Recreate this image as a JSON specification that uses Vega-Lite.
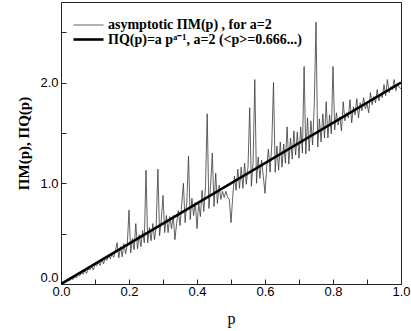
{
  "$schema": "https://vega.github.io/schema/vega-lite/v6.json",
  "autosize": {"type": "none"},
  "padding": {"left": 61, "top": 2, "right": 10, "bottom": 45},
  "width": 340,
  "height": 282,
  "background": "white",
  "config": {
    "view": {"stroke": "#222", "strokeWidth": 1},
    "axis": {
      "grid": false,
      "domainColor": "#222",
      "tickColor": "#222",
      "labelColor": "black",
      "labelFont": "Liberation Sans",
      "labelFontSize": 13,
      "titleFont": "Liberation Serif",
      "titleColor": "black"
    }
  },
  "data": {
    "values": [
      {"p":0.000,"v":0.000,"s":"M"},{"p":0.005,"v":0.005,"s":"M"},{"p":0.010,"v":0.020,"s":"M"},{"p":0.015,"v":0.018,"s":"M"},{"p":0.020,"v":0.040,"s":"M"},
      {"p":0.025,"v":0.032,"s":"M"},{"p":0.030,"v":0.058,"s":"M"},{"p":0.035,"v":0.045,"s":"M"},{"p":0.040,"v":0.080,"s":"M"},{"p":0.045,"v":0.060,"s":"M"},
      {"p":0.050,"v":0.095,"s":"M"},{"p":0.055,"v":0.080,"s":"M"},{"p":0.060,"v":0.115,"s":"M"},{"p":0.065,"v":0.095,"s":"M"},{"p":0.070,"v":0.135,"s":"M"},
      {"p":0.075,"v":0.105,"s":"M"},{"p":0.080,"v":0.150,"s":"M"},{"p":0.085,"v":0.140,"s":"M"},{"p":0.090,"v":0.175,"s":"M"},{"p":0.095,"v":0.140,"s":"M"},
      {"p":0.100,"v":0.195,"s":"M"},{"p":0.105,"v":0.180,"s":"M"},{"p":0.110,"v":0.215,"s":"M"},{"p":0.115,"v":0.185,"s":"M"},{"p":0.120,"v":0.245,"s":"M"},
      {"p":0.125,"v":0.200,"s":"M"},{"p":0.130,"v":0.255,"s":"M"},{"p":0.135,"v":0.235,"s":"M"},{"p":0.140,"v":0.290,"s":"M"},{"p":0.145,"v":0.250,"s":"M"},
      {"p":0.150,"v":0.300,"s":"M"},{"p":0.155,"v":0.265,"s":"M"},{"p":0.160,"v":0.330,"s":"M"},{"p":0.165,"v":0.410,"s":"M"},{"p":0.170,"v":0.260,"s":"M"},
      {"p":0.175,"v":0.370,"s":"M"},{"p":0.180,"v":0.270,"s":"M"},{"p":0.185,"v":0.400,"s":"M"},{"p":0.190,"v":0.300,"s":"M"},{"p":0.195,"v":0.390,"s":"M"},
      {"p":0.200,"v":0.735,"s":"M"},{"p":0.205,"v":0.310,"s":"M"},{"p":0.210,"v":0.450,"s":"M"},{"p":0.215,"v":0.340,"s":"M"},{"p":0.220,"v":0.600,"s":"M"},
      {"p":0.225,"v":0.350,"s":"M"},{"p":0.230,"v":0.490,"s":"M"},{"p":0.235,"v":0.370,"s":"M"},{"p":0.240,"v":0.530,"s":"M"},{"p":0.245,"v":0.410,"s":"M"},
      {"p":0.250,"v":1.130,"s":"M"},{"p":0.255,"v":0.410,"s":"M"},{"p":0.260,"v":0.560,"s":"M"},{"p":0.265,"v":0.430,"s":"M"},{"p":0.270,"v":0.600,"s":"M"},
      {"p":0.275,"v":0.440,"s":"M"},{"p":0.280,"v":0.580,"s":"M"},{"p":0.285,"v":1.140,"s":"M"},{"p":0.290,"v":0.480,"s":"M"},{"p":0.295,"v":0.640,"s":"M"},
      {"p":0.300,"v":0.880,"s":"M"},{"p":0.305,"v":0.510,"s":"M"},{"p":0.310,"v":0.680,"s":"M"},{"p":0.315,"v":0.510,"s":"M"},{"p":0.320,"v":0.670,"s":"M"},
      {"p":0.325,"v":0.550,"s":"M"},{"p":0.330,"v":0.680,"s":"M"},{"p":0.335,"v":0.440,"s":"M"},{"p":0.340,"v":0.600,"s":"M"},{"p":0.345,"v":0.730,"s":"M"},
      {"p":0.350,"v":0.580,"s":"M"},{"p":0.355,"v":0.790,"s":"M"},{"p":0.360,"v":1.000,"s":"M"},{"p":0.365,"v":0.610,"s":"M"},{"p":0.370,"v":0.810,"s":"M"},
      {"p":0.375,"v":1.270,"s":"M"},{"p":0.380,"v":0.640,"s":"M"},{"p":0.385,"v":0.850,"s":"M"},{"p":0.390,"v":0.680,"s":"M"},{"p":0.395,"v":0.810,"s":"M"},
      {"p":0.400,"v":0.550,"s":"M"},{"p":0.405,"v":0.810,"s":"M"},{"p":0.410,"v":0.670,"s":"M"},{"p":0.415,"v":0.930,"s":"M"},{"p":0.420,"v":0.720,"s":"M"},
      {"p":0.425,"v":0.970,"s":"M"},{"p":0.430,"v":1.690,"s":"M"},{"p":0.435,"v":0.750,"s":"M"},{"p":0.440,"v":0.980,"s":"M"},{"p":0.445,"v":1.300,"s":"M"},
      {"p":0.450,"v":0.770,"s":"M"},{"p":0.455,"v":1.100,"s":"M"},{"p":0.460,"v":0.800,"s":"M"},{"p":0.465,"v":0.980,"s":"M"},{"p":0.470,"v":0.840,"s":"M"},
      {"p":0.475,"v":0.920,"s":"M"},{"p":0.480,"v":0.860,"s":"M"},{"p":0.485,"v":0.920,"s":"M"},{"p":0.490,"v":0.860,"s":"M"},{"p":0.495,"v":0.840,"s":"M"},
      {"p":0.500,"v":0.610,"s":"M"},{"p":0.505,"v":0.860,"s":"M"},{"p":0.510,"v":1.070,"s":"M"},{"p":0.515,"v":0.930,"s":"M"},{"p":0.520,"v":1.140,"s":"M"},
      {"p":0.525,"v":0.950,"s":"M"},{"p":0.530,"v":1.160,"s":"M"},{"p":0.535,"v":0.950,"s":"M"},{"p":0.540,"v":1.200,"s":"M"},{"p":0.545,"v":0.990,"s":"M"},
      {"p":0.550,"v":1.160,"s":"M"},{"p":0.555,"v":1.750,"s":"M"},{"p":0.560,"v":0.970,"s":"M"},{"p":0.565,"v":1.210,"s":"M"},{"p":0.570,"v":2.030,"s":"M"},
      {"p":0.575,"v":1.000,"s":"M"},{"p":0.580,"v":1.260,"s":"M"},{"p":0.585,"v":1.050,"s":"M"},{"p":0.590,"v":1.230,"s":"M"},{"p":0.595,"v":1.070,"s":"M"},
      {"p":0.600,"v":0.900,"s":"M"},{"p":0.605,"v":1.160,"s":"M"},{"p":0.610,"v":1.340,"s":"M"},{"p":0.615,"v":1.110,"s":"M"},{"p":0.620,"v":1.390,"s":"M"},
      {"p":0.625,"v":2.000,"s":"M"},{"p":0.630,"v":1.110,"s":"M"},{"p":0.635,"v":1.370,"s":"M"},{"p":0.640,"v":1.130,"s":"M"},{"p":0.645,"v":1.410,"s":"M"},
      {"p":0.650,"v":1.160,"s":"M"},{"p":0.655,"v":1.390,"s":"M"},{"p":0.660,"v":1.200,"s":"M"},{"p":0.665,"v":1.560,"s":"M"},{"p":0.670,"v":1.190,"s":"M"},
      {"p":0.675,"v":1.450,"s":"M"},{"p":0.680,"v":1.240,"s":"M"},{"p":0.685,"v":1.520,"s":"M"},{"p":0.690,"v":1.280,"s":"M"},{"p":0.695,"v":1.510,"s":"M"},
      {"p":0.700,"v":1.250,"s":"M"},{"p":0.705,"v":1.560,"s":"M"},{"p":0.710,"v":1.300,"s":"M"},{"p":0.715,"v":2.160,"s":"M"},{"p":0.720,"v":1.290,"s":"M"},
      {"p":0.725,"v":1.650,"s":"M"},{"p":0.730,"v":1.320,"s":"M"},{"p":0.735,"v":1.620,"s":"M"},{"p":0.740,"v":1.380,"s":"M"},{"p":0.745,"v":1.790,"s":"M"},
      {"p":0.750,"v":2.600,"s":"M"},{"p":0.755,"v":1.360,"s":"M"},{"p":0.760,"v":1.640,"s":"M"},{"p":0.765,"v":1.410,"s":"M"},{"p":0.770,"v":1.690,"s":"M"},
      {"p":0.775,"v":1.450,"s":"M"},{"p":0.780,"v":1.810,"s":"M"},{"p":0.785,"v":1.450,"s":"M"},{"p":0.790,"v":1.680,"s":"M"},{"p":0.795,"v":1.490,"s":"M"},
      {"p":0.800,"v":2.160,"s":"M"},{"p":0.805,"v":1.530,"s":"M"},{"p":0.810,"v":1.700,"s":"M"},{"p":0.815,"v":1.580,"s":"M"},{"p":0.820,"v":1.660,"s":"M"},
      {"p":0.825,"v":1.520,"s":"M"},{"p":0.830,"v":1.810,"s":"M"},{"p":0.835,"v":1.620,"s":"M"},{"p":0.840,"v":1.700,"s":"M"},{"p":0.845,"v":1.650,"s":"M"},
      {"p":0.850,"v":1.830,"s":"M"},{"p":0.855,"v":1.600,"s":"M"},{"p":0.860,"v":1.760,"s":"M"},{"p":0.865,"v":1.680,"s":"M"},{"p":0.870,"v":1.840,"s":"M"},
      {"p":0.875,"v":1.650,"s":"M"},{"p":0.880,"v":1.800,"s":"M"},{"p":0.885,"v":1.720,"s":"M"},{"p":0.890,"v":1.850,"s":"M"},{"p":0.895,"v":1.740,"s":"M"},
      {"p":0.900,"v":1.790,"s":"M"},{"p":0.905,"v":1.700,"s":"M"},{"p":0.910,"v":1.900,"s":"M"},{"p":0.915,"v":1.780,"s":"M"},{"p":0.920,"v":1.860,"s":"M"},
      {"p":0.925,"v":1.800,"s":"M"},{"p":0.930,"v":1.930,"s":"M"},{"p":0.935,"v":1.820,"s":"M"},{"p":0.940,"v":1.890,"s":"M"},{"p":0.945,"v":1.850,"s":"M"},
      {"p":0.950,"v":1.980,"s":"M"},{"p":0.955,"v":1.870,"s":"M"},{"p":0.960,"v":2.030,"s":"M"},{"p":0.965,"v":1.900,"s":"M"},{"p":0.970,"v":1.960,"s":"M"},
      {"p":0.975,"v":1.930,"s":"M"},{"p":0.980,"v":2.030,"s":"M"},{"p":0.985,"v":1.920,"s":"M"},{"p":0.990,"v":1.990,"s":"M"},{"p":0.995,"v":1.950,"s":"M"},
      {"p":1.000,"v":1.940,"s":"M"},
      {"p":0.0,"v":0.0,"s":"Q"},{"p":1.0,"v":2.0,"s":"Q"}
    ]
  },
  "mark": {"type": "line", "clip": true},
  "encoding": {
    "x": {
      "field": "p", "type": "quantitative",
      "scale": {"domain": [0, 1], "nice": false, "zero": false},
      "axis": {
        "title": "p", "titleFontSize": 16, "titleFontWeight": "normal", "titlePadding": 12,
        "values": [0, 0.1, 0.2, 0.3, 0.4, 0.5, 0.6, 0.7, 0.8, 0.9, 1.0],
        "labelExpr": "round(datum.value*10) % 2 == 0 ? format(datum.value, '.1f') : ''",
        "tickSize": -5, "labelPadding": 6, "labelFlush": false
      }
    },
    "y": {
      "field": "v", "type": "quantitative",
      "scale": {"domain": [0, 2.8], "nice": false},
      "axis": {
        "title": "ΠM(p), ΠQ(p)", "titleFontSize": 15, "titleFontWeight": "bold", "titlePadding": 8,
        "values": [0, 0.5, 1, 1.5, 2, 2.5],
        "labelExpr": "datum.value % 1 == 0 ? format(datum.value, '.1f') : ''",
        "tickSize": -5, "labelPadding": 8, "labelFlush": true
      }
    },
    "color": {
      "field": "s", "type": "nominal",
      "scale": {"domain": ["M", "Q"], "range": ["#3a3a3a", "#000000"]},
      "legend": {
        "title": null, "orient": "none", "legendX": 20, "legendY": 16, "padding": 0,
        "symbolType": "M-2.5,0H2.5", "symbolSize": 144,
        "labelFont": "Liberation Serif", "labelFontSize": 14, "labelFontWeight": "bold",
        "labelColor": "black", "labelOffset": 12, "rowPadding": 0, "labelLimit": 400,
        "labelExpr": "datum.label == 'M' ? 'asymptotic ΠM(p) , for a=2' : 'ΠQ(p)=a pᵃ⁻¹, a=2 (<p>=0.666...)'"
      }
    },
    "strokeWidth": {
      "field": "s", "type": "nominal",
      "scale": {"domain": ["M", "Q"], "range": [0.8, 2.6]},
      "legend": {
        "title": null, "orient": "none", "legendX": 20, "legendY": 16, "padding": 0,
        "symbolType": "M-2.5,0H2.5", "symbolSize": 144,
        "labelFont": "Liberation Serif", "labelFontSize": 14, "labelFontWeight": "bold",
        "labelColor": "black", "labelOffset": 12, "rowPadding": 0, "labelLimit": 400,
        "labelExpr": "datum.label == 'M' ? 'asymptotic ΠM(p) , for a=2' : 'ΠQ(p)=a pᵃ⁻¹, a=2 (<p>=0.666...)'"
      }
    }
  }
}
